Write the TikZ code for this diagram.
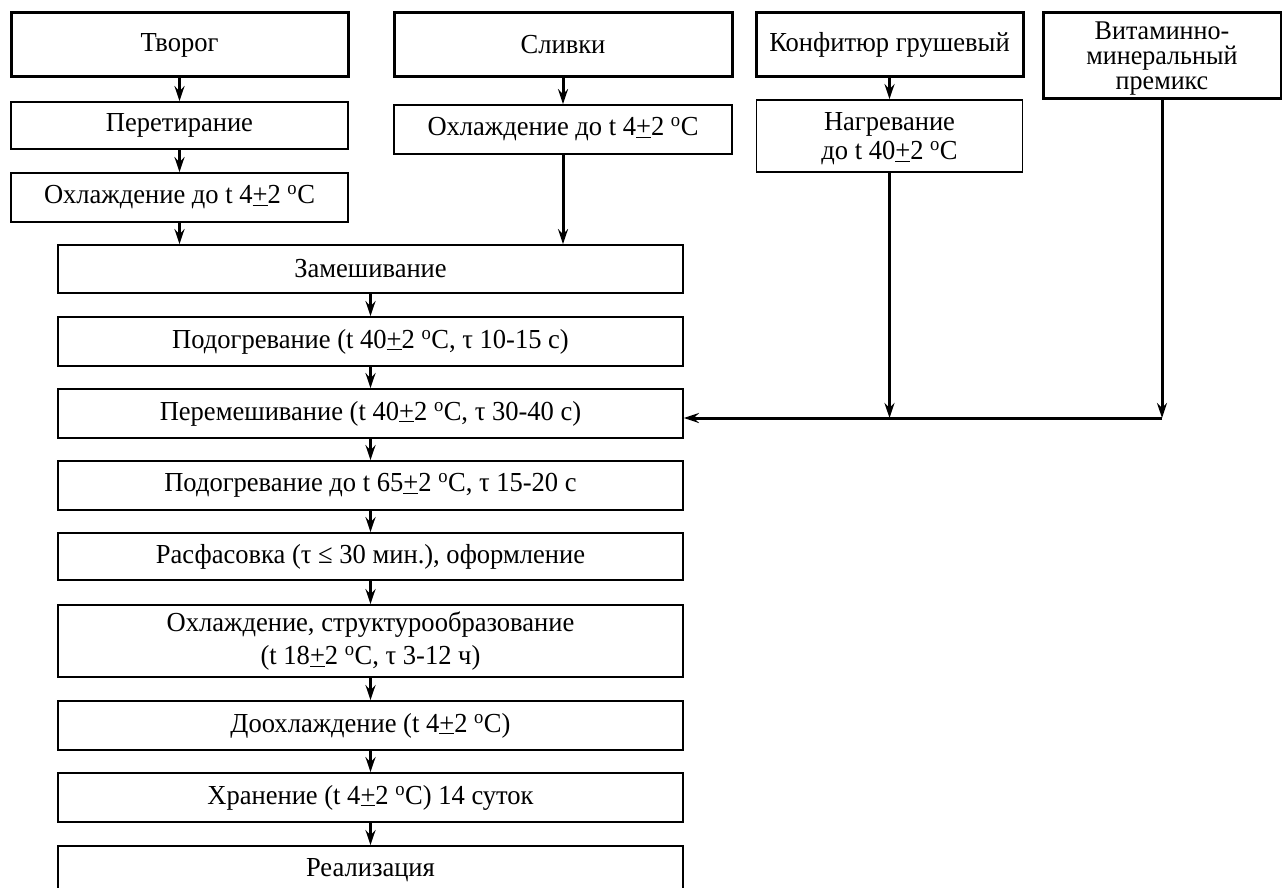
\documentclass[tikz,border=0pt]{standalone}
\usepackage{fontspec}
\setmainfont{Liberation Serif}[FakeStretch=0.965]
\usetikzlibrary{arrows.meta,positioning}

\newcommand{\pmu}{\underline{+}}
\newcommand{\degC}{\textsuperscript{o}C}

\begin{document}
\begin{tikzpicture}[x=1pt,y=-1pt,>={Stealth[length=15pt,width=10pt,inset=5pt]},line width=3pt,
    box/.style={draw,rectangle,line width=1.8pt,inner sep=0pt,align=center,
        font=\fontsize{27.5}{30}\selectfont},
    src/.style={box,line width=3pt},
    stage/.style={box,minimum width=625,minimum height=49}]

    \useasboundingbox (0,0) rectangle (1282,888);

    % Raw materials
    \node [src,minimum width=337,minimum height=64] at (179.5,45) (tvorog) {Творог};
    \node [src,minimum width=338,minimum height=64] at (563,45) (slivki) {Сливки};
    \node [src,minimum width=267,minimum height=64] at (889.5,45) (konf) {Конфитюр грушевый};
    \node [src,minimum width=238,minimum height=86,text depth=-1pt,font=\fontsize{27}{25}\selectfont] at (1162,56) (premix) {Витаминно-\\минеральный\\премикс};

    % Preparation
    \node [box,minimum width=337,minimum height=47] at (179.5,125.5) (peret) {Перетирание};
    \node [box,minimum width=337,minimum height=49] at (179.5,197.5) (ohl1) {Охлаждение до t 4\pmu2 \degC};
    \node [box,minimum width=338,minimum height=49] at (563,129.5) (ohl2) {Охлаждение до t 4\pmu2 \degC};
    \node [box,minimum width=266,minimum height=72,text depth=-2pt,font=\fontsize{27.5}{29}\selectfont] at (889.5,136) (nagr) {Нагревание\\до t 40\pmu2 \degC};

    % Main line
    \node [stage,minimum height=48] at (370.5,269) (zamesh) {Замешивание};
    \node [stage] at (370.5,341.5) (podogr) {Подогревание (t 40\pmu2 \degC, τ 10-15 с)};
    \node [stage] at (370.5,413.5) (peremesh) {Перемешивание (t 40\pmu2 \degC, τ 30-40 с)};
    \node [stage] at (370.5,485.5) (nagrev) {Подогревание до t 65\pmu2 \degC, τ 15-20 с};
    \node [stage,minimum height=47] at (370.5,556.5) (rasf) {Расфасовка (τ ≤ 30 мин.), оформление};
    \node [stage,minimum height=72,font=\fontsize{27.5}{33}\selectfont] at (370.5,641) (struct) {Охлаждение, структурообразование\\(t 18\pmu2 \degC, τ 3-12 ч)};
    \node [stage] at (370.5,725.5) (doohl) {Доохлаждение (t 4\pmu2 \degC)};
    \node [stage] at (370.5,797.5) (hran) {Хранение (t 4\pmu2 \degC) 14 суток};
    \node [stage] at (370.5,870.5) (real) {Реализация};

    \coordinate (jp) at (1162,418);
    \coordinate (jn) at (nagr.south |- jp);

    % Edges
    \path[->]
    (tvorog) edge (peret)
    (peret) edge (ohl1)
    (slivki) edge (ohl2)
    (konf) edge (nagr)
    (zamesh) edge (podogr)
    (podogr) edge (peremesh)
    (peremesh) edge (nagrev)
    (nagrev) edge (rasf)
    (rasf) edge (struct)
    (struct) edge (doohl)
    (doohl) edge (hran)
    (hran) edge (real);

    \draw[->] (ohl1) -- (ohl1 |- zamesh.north);
    \draw[->] (ohl2) -- (ohl2 |- zamesh.north);
    \draw[->] (nagr) -- (jn);
    \draw[->] (premix) -- (jp);
    \draw[->] (jp) -- (peremesh.east |- jp);

\end{tikzpicture}
\end{document}
